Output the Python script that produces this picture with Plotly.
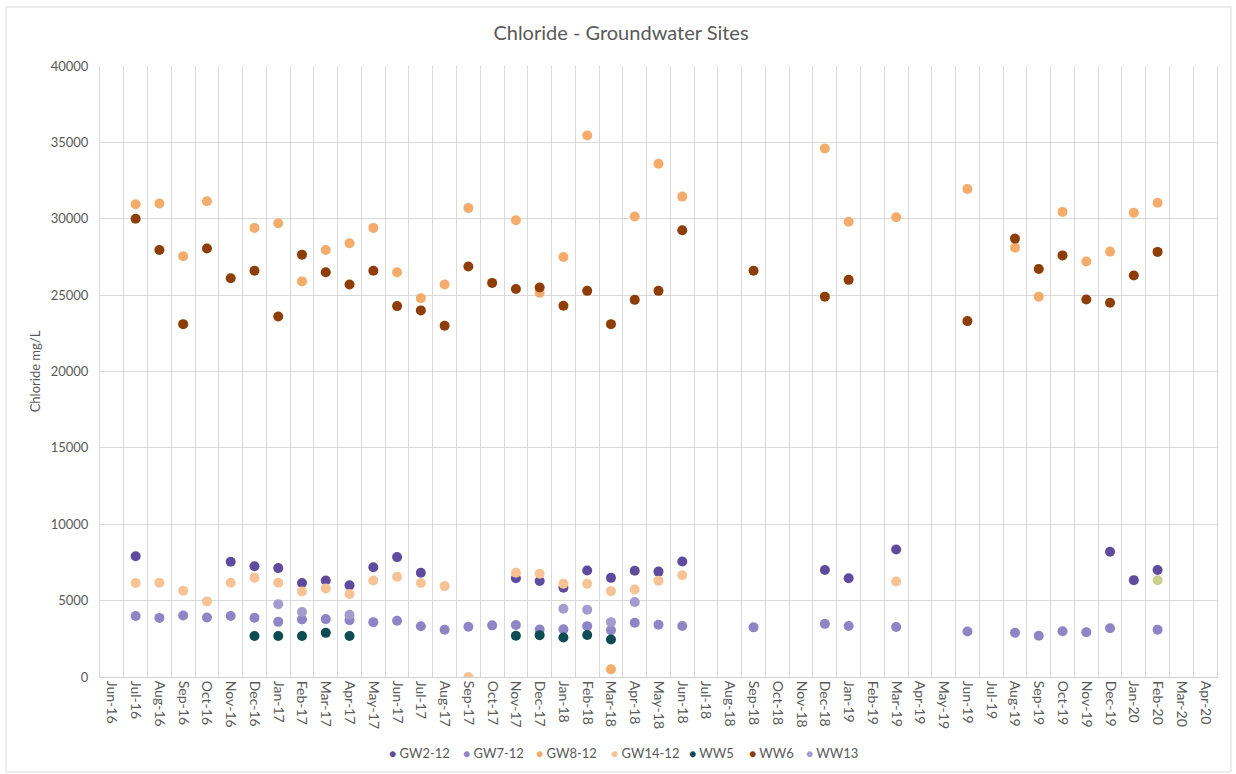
import plotly.graph_objects as go

# Monthly category labels along the x axis
months = [
    "Jun-16", "Jul-16", "Aug-16", "Sep-16", "Oct-16", "Nov-16", "Dec-16",
    "Jan-17", "Feb-17", "Mar-17", "Apr-17", "May-17", "Jun-17", "Jul-17",
    "Aug-17", "Sep-17", "Oct-17", "Nov-17", "Dec-17",
    "Jan-18", "Feb-18", "Mar-18", "Apr-18", "May-18", "Jun-18", "Jul-18",
    "Aug-18", "Sep-18", "Oct-18", "Nov-18", "Dec-18",
    "Jan-19", "Feb-19", "Mar-19", "Apr-19", "May-19", "Jun-19", "Jul-19",
    "Aug-19", "Sep-19", "Oct-19", "Nov-19", "Dec-19",
    "Jan-20", "Feb-20", "Mar-20", "Apr-20",
]

# GW2-12
gw2_months = ["Jul-16", "Nov-16", "Dec-16", "Jan-17", "Feb-17", "Mar-17", "Apr-17",
              "May-17", "Jun-17", "Jul-17", "Nov-17", "Dec-17", "Jan-18", "Feb-18",
              "Mar-18", "Apr-18", "May-18", "Jun-18", "Dec-18", "Jan-19", "Mar-19",
              "Dec-19", "Jan-20", "Feb-20"]
gw2_values = [7900, 7550, 7250, 7130, 6150, 6320, 6000,
              7180, 7850, 6820, 6460, 6280, 5840, 6970,
              6490, 6960, 6900, 7560, 7000, 6470, 8350,
              8200, 6340, 7010]

# GW7-12
gw7_months = ["Jul-16", "Aug-16", "Sep-16", "Oct-16", "Nov-16", "Dec-16", "Jan-17",
              "Feb-17", "Mar-17", "Apr-17", "May-17", "Jun-17", "Jul-17", "Aug-17",
              "Sep-17", "Oct-17", "Nov-17", "Dec-17", "Jan-18", "Feb-18", "Mar-18",
              "Apr-18", "May-18", "Jun-18", "Sep-18", "Dec-18", "Jan-19", "Mar-19",
              "Jun-19", "Aug-19", "Sep-19", "Oct-19", "Nov-19", "Dec-19", "Feb-20"]
gw7_values = [3990, 3870, 4030, 3900, 3990, 3880, 3610,
              3760, 3790, 3720, 3590, 3680, 3320, 3090,
              3290, 3380, 3400, 3110, 3120, 3330, 3060,
              3550, 3420, 3340, 3250, 3480, 3340, 3270,
              2980, 2900, 2700, 3000, 2930, 3190, 3100]

# GW8-12
gw8_months = ["Jul-16", "Aug-16", "Sep-16", "Oct-16", "Dec-16", "Jan-17", "Feb-17",
              "Mar-17", "Apr-17", "May-17", "Jun-17", "Jul-17", "Aug-17", "Sep-17",
              "Nov-17", "Dec-17", "Jan-18", "Feb-18", "Mar-18", "Apr-18", "May-18",
              "Jun-18", "Dec-18", "Jan-19", "Mar-19", "Jun-19", "Aug-19", "Sep-19",
              "Oct-19", "Nov-19", "Dec-19", "Jan-20", "Feb-20"]
gw8_values = [30950, 31000, 27550, 31150, 29400, 29700, 25900,
              27950, 28400, 29400, 26500, 24800, 25700, 30700,
              29900, 25150, 27500, 35450, 500, 30150, 33600,
              31450, 34600, 29800, 30100, 31950, 28100, 24900,
              30450, 27200, 27850, 30400, 31050]

# GW14-12
gw14_months = ["Jul-16", "Aug-16", "Sep-16", "Oct-16", "Nov-16", "Dec-16", "Jan-17",
               "Feb-17", "Mar-17", "Apr-17", "May-17", "Jun-17", "Jul-17", "Aug-17",
               "Sep-17", "Nov-17", "Dec-17", "Jan-18", "Feb-18", "Mar-18", "Apr-18",
               "May-18", "Jun-18", "Mar-19", "Feb-20"]
gw14_values = [6150, 6170, 5650, 4950, 6170, 6500, 6170,
               5600, 5800, 5430, 6320, 6560, 6150, 5950,
               0, 6830, 6760, 6100, 6110, 5620, 5730,
               6300, 6660, 6250, 6330]

# WW5
ww5_months = ["Dec-16", "Jan-17", "Feb-17", "Mar-17", "Apr-17",
              "Nov-17", "Dec-17", "Jan-18", "Feb-18", "Mar-18"]
ww5_values = [2680, 2680, 2680, 2890, 2680,
              2700, 2740, 2590, 2745, 2450]

# WW6
ww6_months = ["Jul-16", "Aug-16", "Sep-16", "Oct-16", "Nov-16", "Dec-16", "Jan-17",
              "Feb-17", "Mar-17", "Apr-17", "May-17", "Jun-17", "Jul-17", "Aug-17",
              "Sep-17", "Oct-17", "Nov-17", "Dec-17", "Jan-18", "Feb-18", "Mar-18",
              "Apr-18", "May-18", "Jun-18", "Sep-18", "Dec-18", "Jan-19", "Jun-19",
              "Aug-19", "Sep-19", "Oct-19", "Nov-19", "Dec-19", "Jan-20", "Feb-20"]
ww6_values = [30000, 27950, 23100, 28050, 26100, 26600, 23600,
              27650, 26500, 25700, 26600, 24280, 24000, 23000,
              26870, 25800, 25400, 25500, 24300, 25280, 23100,
              24690, 25280, 29250, 26600, 24900, 26000, 23300,
              28700, 26710, 27600, 24710, 24500, 26280, 27830]

# WW13
ww13_months = ["Jan-17", "Feb-17", "Apr-17", "Jan-18", "Feb-18", "Mar-18", "Apr-18"]
ww13_values = [4770, 4250, 4070, 4470, 4410, 3590, 4910]

PEACH = "#F7C294"
gw14_colors = ["#C9D28C" if m == "Feb-20" else PEACH for m in gw14_months]

series = [
    ("GW2-12", gw2_months, gw2_values, "#5E4B9E"),
    ("GW7-12", gw7_months, gw7_values, "#8D85C6"),
    ("GW8-12", gw8_months, gw8_values, "#F4AC6C"),
    ("GW14-12", gw14_months, gw14_values, gw14_colors),
    ("WW5", ww5_months, ww5_values, "#0C4C52"),
    ("WW6", ww6_months, ww6_values, "#8E3D07"),
    ("WW13", ww13_months, ww13_values, "#A49BCF"),
]

FONT = "Lato, 'Open Sans', sans-serif"
GREY_TEXT = "#595959"
GRID = "#D9D9D9"

W, H = 1236, 774
L, R, T, B = 100, 19, 66, 97
pw, ph = W - L - R, H - T - B

fig = go.Figure()
for name, xs, ys, color in series:
    fig.add_trace(go.Scatter(
        x=xs, y=ys, name=name, mode="markers", showlegend=False,
        marker=dict(size=10, color=color, line=dict(width=0)),
    ))

# Compact horizontal key under the axis: a dot in the series colour, then its name
key_left_px = [387, 461, 534, 609, 687, 747, 804]
key_y = (H - B - 753) / ph
annotations = []
for (name, _, _, color), left in zip(series, key_left_px):
    dot = PEACH if isinstance(color, list) else color
    annotations.append(dict(
        xref="paper", yref="paper", x=(left - L) / pw, y=key_y,
        xanchor="left", yanchor="middle", showarrow=False,
        text=f"<span style='color:{dot};font-size:12px'>●</span> {name}",
        font=dict(family=FONT, size=13, color=GREY_TEXT),
    ))

fig.update_layout(
    width=W, height=H,
    margin=dict(l=L, r=R, t=T, b=B),
    paper_bgcolor="white", plot_bgcolor="white",
    font=dict(family=FONT, color=GREY_TEXT, size=12),
    title=dict(text="Chloride - Groundwater Sites", x=621 / W, xanchor="center",
               y=1 - 33 / H, yanchor="middle",
               font=dict(family=FONT, size=20, color=GREY_TEXT)),
    showlegend=False,
    annotations=annotations,
    xaxis=dict(type="category", categoryorder="array", categoryarray=months,
               tickvals=months, ticktext=months,
               range=[-0.5, len(months) - 0.5], tickson="boundaries",
               tickangle=90, showgrid=True, gridcolor=GRID, gridwidth=1,
               showline=True, linecolor="#CFCFCF", linewidth=1, ticks="",
               tickfont=dict(family=FONT, size=14, color=GREY_TEXT), zeroline=False),
    yaxis=dict(range=[0, 40000], dtick=5000, tickformat="d",
               showgrid=True, gridcolor=GRID, gridwidth=1,
               showline=True, mirror=True, linecolor=GRID, linewidth=1,
               zeroline=False, ticks="", ticklabelstandoff=8,
               tickfont=dict(family=FONT, size=13, color=GREY_TEXT),
               title=dict(text="Chloride mg/L", standoff=7,
                          font=dict(family=FONT, size=13, color=GREY_TEXT))),
    shapes=[dict(type="rect", xref="paper", yref="paper",
                 x0=(6 - L) / pw, x1=(1231 - L) / pw,
                 y0=(H - B - 772) / ph, y1=(H - B - 7) / ph,
                 line=dict(color=GRID, width=1), fillcolor="rgba(0,0,0,0)",
                 layer="below")],
)

fig.write_html("out.html")
